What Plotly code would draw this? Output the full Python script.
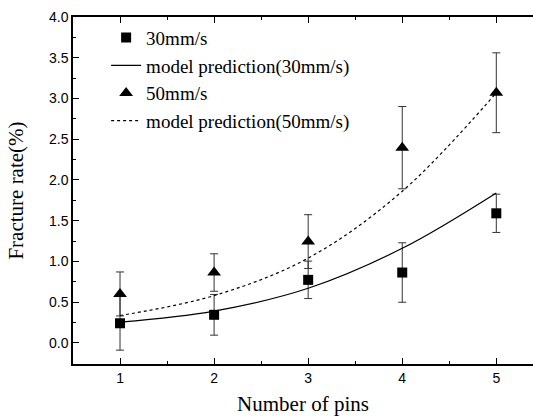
import plotly.graph_objects as go

# Measured fracture rates (%) versus number of pins
pins = [1, 2, 3, 4, 5]

rate_30 = [0.24, 0.344, 0.773, 0.863, 1.59]
err_30 = [0.33, 0.25, 0.23, 0.365, 0.235]

rate_50 = [0.60, 0.863, 1.243, 2.396, 3.07]
err_50 = [0.27, 0.23, 0.33, 0.505, 0.49]

# Model predictions evaluated at each pin count
model_30 = [0.255, 0.39, 0.67, 1.16, 1.84]
model_50 = [0.335, 0.58, 1.04, 1.86, 3.07]

serif = "Liberation Serif"
sans = "Liberation Sans"

fig = go.Figure()

fig.add_trace(go.Scatter(
    x=pins, y=rate_30, mode="markers", name="30mm/s",
    marker=dict(symbol="square", size=10, color="black"),
    error_y=dict(type="data", array=err_30, visible=True,
                 color="#333333", thickness=1, width=4),
))
fig.add_trace(go.Scatter(
    x=pins, y=model_30, mode="lines", name="model prediction(30mm/s)",
    line=dict(color="black", width=1.2, shape="spline"),
))
fig.add_trace(go.Scatter(
    x=pins, y=rate_50, mode="markers", name="50mm/s",
    marker=dict(symbol="triangle-up", size=12, color="black"),
    error_y=dict(type="data", array=err_50, visible=True,
                 color="#333333", thickness=1, width=4),
))
fig.add_trace(go.Scatter(
    x=pins, y=model_50, mode="lines", name="model prediction(50mm/s)",
    line=dict(color="black", width=1.2, shape="spline", dash="3px,3px"),
))

fig.update_layout(
    width=533, height=416,
    margin=dict(l=73, r=0, t=17, b=52),
    paper_bgcolor="white", plot_bgcolor="white",
    showlegend=True,
    legend=dict(
        x=0.072, y=0.995, xanchor="left", yanchor="top",
        bgcolor="rgba(0,0,0,0)", borderwidth=0,
        font=dict(family=serif, size=19, color="black"),
        itemwidth=30, tracegroupgap=0,
    ),
    xaxis=dict(
        range=[0.5, 5.39], dtick=1, tick0=1,
        showgrid=False, zeroline=False,
        showline=True, linecolor="black", linewidth=1.5, mirror="ticks",
        ticks="inside", ticklen=6, tickcolor="black",
        minor=dict(dtick=0.5, ticks="inside", ticklen=3, tickcolor="black"),
        tickfont=dict(family=sans, size=14, color="black"),
        title=dict(text="Number of pins", standoff=12,
                   font=dict(family=serif, size=21, color="black")),
    ),
    yaxis=dict(
        range=[-0.26, 4.0], dtick=0.5, tick0=0, tickformat=".1f",
        showgrid=False, zeroline=False,
        showline=True, linecolor="black", linewidth=1.5,
        ticks="inside", ticklen=6, tickcolor="black",
        minor=dict(dtick=0.25, ticks="inside", ticklen=3, tickcolor="black"),
        tickfont=dict(family=sans, size=14, color="black"),
        title=dict(text="Fracture rate(%)", standoff=20,
                   font=dict(family=serif, size=21, color="black")),
    ),
)

fig.write_html("out.html")
